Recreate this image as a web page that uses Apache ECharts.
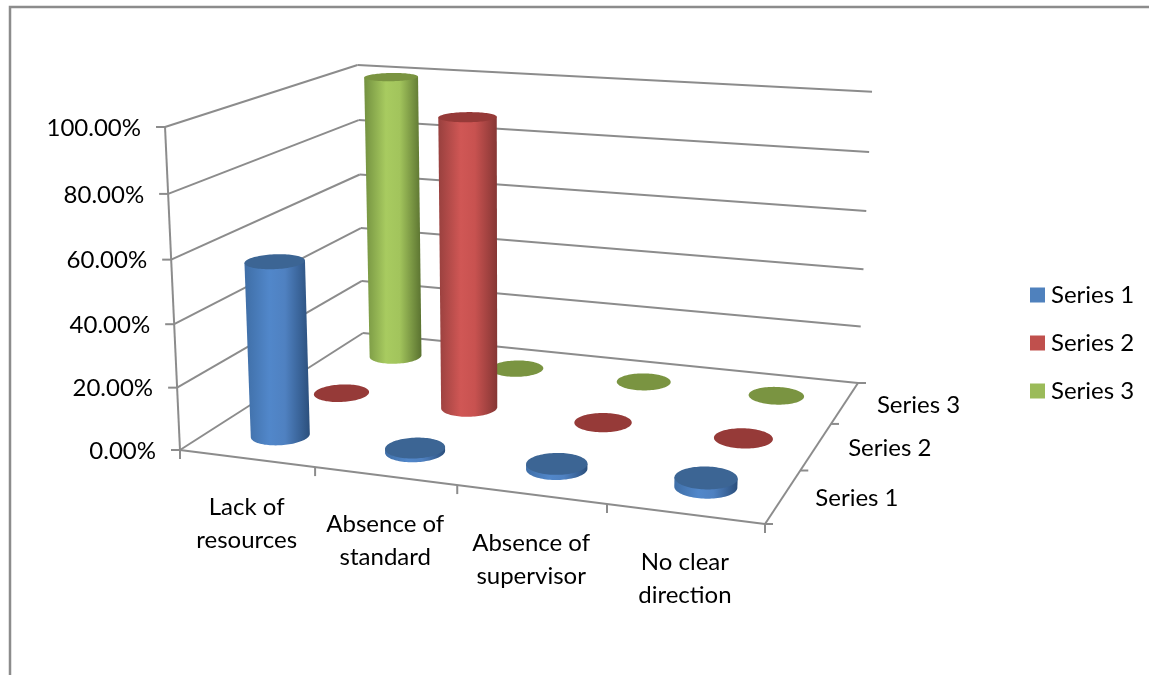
<!DOCTYPE html>
<html>
<head>
<meta charset="utf-8">
<style>html,body{margin:0;padding:0;background:#fff}#chart{width:1149px;height:675px}</style>
<script src="https://cdn.jsdelivr.net/npm/echarts@6/dist/echarts.min.js"></script>
</head>
<body>
<div id="chart"></div>
<script>
// Chart data
const categories = ['Lack of\nresources', 'Absence of\nstandard', 'Absence of\nsupervisor', 'No clear\ndirection'];
const seriesNames = ['Series 1', 'Series 2', 'Series 3'];
const series1Values = [56, 1.2, 1.6, 2.8];
const series2Values = [0, 96, 0, 0];
const series3Values = [100, 0, 0, 0];
const valueTicks = [0, 20, 40, 60, 80, 100];

const FONT = 'Lato, "Open Sans", sans-serif';
const FONT_SIZE = 24;
const LINE = '#8c8c8c';

// Floor corners on screen: front-left, front-right, back-right, back-left
const FLOOR = [[180, 450], [765, 524], [858, 383], [363, 333]];
// Vanishing point of the verticals and the perspective term of the value direction
const VERTICAL_VP = [511, 7587];
const VERTICAL_C = -0.0433;
const BACK_HEIGHT_TRIM = 0.012;

// Homography taking the unit square onto the floor, returned with its weight
function squareToQuad(q) {
  const [[x0, y0], [x1, y1], [x2, y2], [x3, y3]] = q;
  const dx1 = x1 - x2, dx2 = x3 - x2, sx = x0 - x1 + x2 - x3;
  const dy1 = y1 - y2, dy2 = y3 - y2, sy = y0 - y1 + y2 - y3;
  const d = dx1 * dy2 - dx2 * dy1;
  const g = (sx * dy2 - dx2 * sy) / d;
  const h = (dx1 * sy - sx * dy1) / d;
  const a = x1 - x0 + g * x1, b = x3 - x0 + h * x3;
  const e = y1 - y0 + g * y1, f = y3 - y0 + h * y3;
  return (u, v) => [a * u + b * v + x0, e * u + f * v + y0, g * u + h * v + 1];
}
const floorAt = squareToQuad(FLOOR);

// u: along categories, v: into depth, w: up the value axis (all 0..1)
function project(u, v, w) {
  const [X, Y, k] = floorAt(u, v);
  const c = VERTICAL_C * w * (1 - BACK_HEIGHT_TRIM * v);
  const d = k + c;
  return [(X + c * VERTICAL_VP[0]) / d, (Y + c * VERTICAL_VP[1]) / d];
}

// Hidden cartesian frame supplies the category and value scales
const GRID = { left: 180, top: 127, width: 585, height: 323 };
const RADIUS_V = 0.0705;
const RADIUS_U = RADIUS_V / 1.42;
const RING_STEPS = 96;

function ring(u, v, w) {
  const pts = [];
  for (let i = 0; i < RING_STEPS; i++) {
    const a = (i / RING_STEPS) * Math.PI * 2;
    pts.push(project(u + RADIUS_U * Math.cos(a), v + RADIUS_V * Math.sin(a), w));
  }
  return pts;
}

function extremes(pts) {
  let l = 0, r = 0;
  pts.forEach((p, i) => {
    if (p[0] < pts[l][0]) l = i;
    if (p[0] > pts[r][0]) r = i;
  });
  return [l, r];
}

// Side wall outline: left edge, front arc of the base, right edge
function wallOutline(top, base) {
  const [tl, tr] = extremes(top);
  const [bl, br] = extremes(base);
  const pts = [top[tl]];
  const n = base.length;
  let i = bl;
  let lower = 0;
  // walk the base ring along whichever direction passes through its lowest point
  base.forEach((p, k) => { if (p[1] > base[lower][1]) lower = k; });
  const forward = ((lower - bl + n) % n) < ((br - bl + n) % n);
  const step = forward ? 1 : n - 1;
  while (i !== br) { pts.push(base[i]); i = (i + step) % n; }
  pts.push(base[br], top[tr]);
  return pts;
}

const STYLES = [
  { legend: '#4f81bd', cap: '#3c6594', stops: ['#3f6ea6', '#5187ca', '#4f81c1', '#2b4f7c'] },
  { legend: '#c0504d', cap: '#963a38', stops: ['#98403e', '#d05755', '#c85250', '#853634'] },
  { legend: '#9bbb59', cap: '#7a9441', stops: ['#739140', '#a8cb60', '#a2c45c', '#5a7230'] }
];

function cylinderRenderer(seriesIdx) {
  const style = STYLES[seriesIdx];
  const v = (seriesIdx + 0.5) / seriesNames.length;
  return function (params, api) {
    const c = api.coord([api.value(0), api.value(1)]);
    const u = (c[0] - GRID.left) / GRID.width;
    const w = (GRID.top + GRID.height - c[1]) / GRID.height;
    const base = ring(u, v, 0);
    const top = ring(u, v, w);
    const children = [];
    if (w > 0) {
      children.push({
        type: 'polygon',
        shape: { points: wallOutline(top, base) },
        style: {
          fill: new echarts.graphic.LinearGradient(0, 0, 1, 0, [
            { offset: 0, color: style.stops[0] },
            { offset: 0.38, color: style.stops[1] },
            { offset: 0.62, color: style.stops[2] },
            { offset: 1, color: style.stops[3] }
          ])
        }
      });
    }
    children.push({ type: 'polygon', shape: { points: top }, style: { fill: style.cap } });
    return { type: 'group', children };
  };
}

function segment(a, b) {
  return {
    type: 'line', z: 0, silent: true,
    shape: { x1: a[0], y1: a[1], x2: b[0], y2: b[1] },
    style: { stroke: LINE, lineWidth: 2 }
  };
}

function label(text, x, y, align) {
  return {
    type: 'text', z: 1, silent: true, x, y,
    style: { text, fill: '#000', font: FONT_SIZE + 'px ' + FONT, lineHeight: 33, align, verticalAlign: 'middle' }
  };
}

// Walls, axes, ticks and their labels
function frameElements() {
  const out = [];
  out.push({
    type: 'polyline', z: 0, silent: true,
    shape: { points: [[10, 675], [10, 7], [1149, 7]] },
    style: { stroke: '#8c8c8c', fill: 'none', lineWidth: 2.5 }
  });
  valueTicks.forEach(t => {
    const w = t / 100;
    const front = project(0, 0, w), back = project(0, 1, w), right = project(1, 1, w);
    out.push(segment(front, back), segment(back, right));
    out.push(segment(front, [front[0] - 9, front[1]]));
    out.push(label(t.toFixed(2) + '%', front[0] - 24, front[1] + 1, 'right'));
  });
  out.push(segment(project(0, 0, 0), project(0, 0, 1)));
  out.push(segment(project(0, 0, 0), project(1, 0, 0)));
  out.push(segment(project(1, 0, 0), project(1, 1, 0)));
  for (let i = 0; i <= categories.length; i++) {
    const p = project(i / categories.length, 0, 0);
    out.push(segment(p, [p[0], p[1] + 9]));
  }
  categories.forEach((name, i) => {
    const p = project((i + 0.5) / categories.length, 0, 0);
    out.push(label(name, p[0], p[1] + 65, 'center'));
  });
  for (let j = 0; j <= seriesNames.length; j++) {
    const p = project(1, j / seriesNames.length, 0);
    out.push(segment(p, [p[0] + 8, p[1]]));
  }
  seriesNames.forEach((name, j) => {
    const p = project(1, (j + 0.5) / seriesNames.length, 0);
    out.push(label(name, p[0] + 32, p[1] + 2, 'left'));
  });
  return out;
}

const chart = echarts.init(document.getElementById('chart'));
const valueSets = [series1Values, series2Values, series3Values];

chart.setOption({
  animation: false,
  backgroundColor: '#ffffff',
  grid: { left: GRID.left, top: GRID.top, width: GRID.width, height: GRID.height, containLabel: false },
  xAxis: { type: 'category', data: categories, show: false },
  yAxis: { type: 'value', min: 0, max: 100, show: false },
  legend: {
    orient: 'vertical', left: 1030, top: 283, padding: 0,
    icon: 'rect', itemWidth: 15, itemHeight: 15, itemGap: 24,
    data: seriesNames,
    textStyle: { fontFamily: FONT, fontSize: FONT_SIZE, color: '#000', padding: [0, 0, 0, 1] }
  },
  graphic: { elements: frameElements() },
  series: seriesNames.map((name, idx) => ({
    type: 'custom',
    name,
    z: 6 - idx,
    clip: false,
    itemStyle: { color: STYLES[idx].legend },
    encode: { x: 0, y: 1 },
    data: valueSets[idx].map((val, i) => [i, val]),
    renderItem: cylinderRenderer(idx)
  }))
});
</script>
</body>
</html>
